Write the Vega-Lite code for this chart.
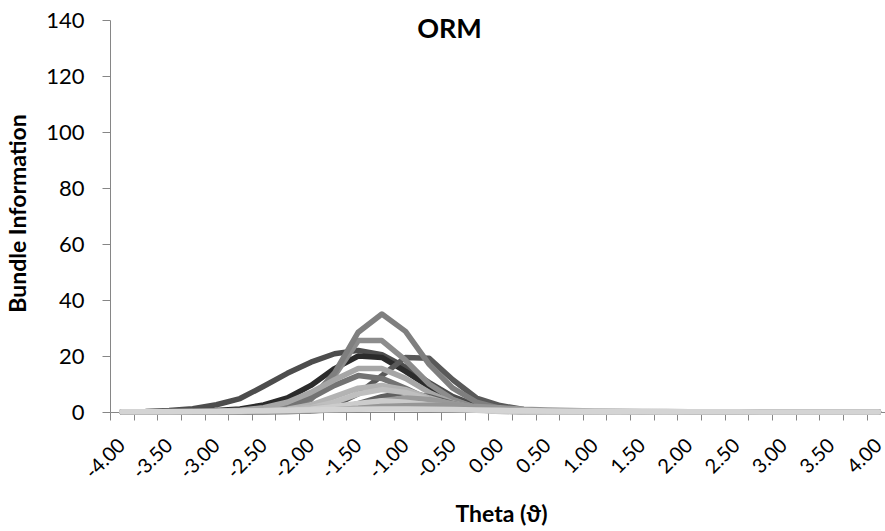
{
"$schema": "https://vega.github.io/schema/vega-lite/v6.json",
"width": 775, "height": 392,
"autosize": {"type": "none"},
"padding": {"left": 110, "top": 20, "right": 0, "bottom": 119},
"background": "white",
"config": {"font": "Lato", "view": {"stroke": null}},
"title": {"text": "ORM", "fontSize": 27, "fontWeight": "bold", "font": "Lato", "color": "#000000", "anchor": "middle", "frame": "group", "baseline": "middle", "offset": -13, "dx": -48, "dy": 35},
"data": {"values": [
{"s":"C","t":-4,"v":0.1},{"s":"C","t":-3.75,"v":0.2},{"s":"C","t":-3.5,"v":0.5},{"s":"C","t":-3.25,"v":1.2},{"s":"C","t":-3,"v":2.6},{"s":"C","t":-2.75,"v":4.8},{"s":"C","t":-2.5,"v":9.2},{"s":"C","t":-2.25,"v":13.8},{"s":"C","t":-2,"v":17.8},{"s":"C","t":-1.75,"v":20.8},{"s":"C","t":-1.5,"v":22},{"s":"C","t":-1.25,"v":20.5},{"s":"C","t":-1,"v":16},{"s":"C","t":-0.75,"v":10.5},{"s":"C","t":-0.5,"v":5.5},{"s":"C","t":-0.25,"v":2.3},{"s":"C","t":0,"v":0.9},{"s":"C","t":0.25,"v":0.4},{"s":"C","t":0.5,"v":0.2},{"s":"C","t":0.75,"v":0.1},{"s":"C","t":1,"v":0.05},{"s":"C","t":1.25,"v":0.03},{"s":"C","t":1.5,"v":0.02},{"s":"C","t":1.75,"v":0.01},{"s":"C","t":2,"v":0},{"s":"C","t":2.25,"v":0},{"s":"C","t":2.5,"v":0},{"s":"C","t":2.75,"v":0},{"s":"C","t":3,"v":0},{"s":"C","t":3.25,"v":0},{"s":"C","t":3.5,"v":0},{"s":"C","t":3.75,"v":0},{"s":"C","t":4,"v":0},
{"s":"D","t":-4,"v":0},{"s":"D","t":-3.75,"v":0.05},{"s":"D","t":-3.5,"v":0.1},{"s":"D","t":-3.25,"v":0.2},{"s":"D","t":-3,"v":0.5},{"s":"D","t":-2.75,"v":1.1},{"s":"D","t":-2.5,"v":2.5},{"s":"D","t":-2.25,"v":5},{"s":"D","t":-2,"v":9.5},{"s":"D","t":-1.75,"v":15.5},{"s":"D","t":-1.5,"v":20},{"s":"D","t":-1.25,"v":19.5},{"s":"D","t":-1,"v":14.5},{"s":"D","t":-0.75,"v":9},{"s":"D","t":-0.5,"v":4.5},{"s":"D","t":-0.25,"v":1.8},{"s":"D","t":0,"v":0.6},{"s":"D","t":0.25,"v":0.2},{"s":"D","t":0.5,"v":0.1},{"s":"D","t":0.75,"v":0.05},{"s":"D","t":1,"v":0},{"s":"D","t":1.25,"v":0},{"s":"D","t":1.5,"v":0},{"s":"D","t":1.75,"v":0},{"s":"D","t":2,"v":0},{"s":"D","t":2.25,"v":0},{"s":"D","t":2.5,"v":0},{"s":"D","t":2.75,"v":0},{"s":"D","t":3,"v":0},{"s":"D","t":3.25,"v":0},{"s":"D","t":3.5,"v":0},{"s":"D","t":3.75,"v":0},{"s":"D","t":4,"v":0},
{"s":"E","t":-4,"v":0},{"s":"E","t":-3.75,"v":0},{"s":"E","t":-3.5,"v":0},{"s":"E","t":-3.25,"v":0},{"s":"E","t":-3,"v":0.05},{"s":"E","t":-2.75,"v":0.1},{"s":"E","t":-2.5,"v":0.2},{"s":"E","t":-2.25,"v":0.4},{"s":"E","t":-2,"v":0.9},{"s":"E","t":-1.75,"v":2.5},{"s":"E","t":-1.5,"v":6.5},{"s":"E","t":-1.25,"v":13},{"s":"E","t":-1,"v":19.5},{"s":"E","t":-0.75,"v":19.2},{"s":"E","t":-0.5,"v":11.5},{"s":"E","t":-0.25,"v":5},{"s":"E","t":0,"v":2.3},{"s":"E","t":0.25,"v":0.9},{"s":"E","t":0.5,"v":0.4},{"s":"E","t":0.75,"v":0.2},{"s":"E","t":1,"v":0.1},{"s":"E","t":1.25,"v":0.05},{"s":"E","t":1.5,"v":0},{"s":"E","t":1.75,"v":0},{"s":"E","t":2,"v":0},{"s":"E","t":2.25,"v":0},{"s":"E","t":2.5,"v":0},{"s":"E","t":2.75,"v":0},{"s":"E","t":3,"v":0},{"s":"E","t":3.25,"v":0},{"s":"E","t":3.5,"v":0},{"s":"E","t":3.75,"v":0},{"s":"E","t":4,"v":0},
{"s":"B","t":-4,"v":0},{"s":"B","t":-3.75,"v":0},{"s":"B","t":-3.5,"v":0},{"s":"B","t":-3.25,"v":0},{"s":"B","t":-3,"v":0.1},{"s":"B","t":-2.75,"v":0.3},{"s":"B","t":-2.5,"v":0.8},{"s":"B","t":-2.25,"v":2.2},{"s":"B","t":-2,"v":5.5},{"s":"B","t":-1.75,"v":13},{"s":"B","t":-1.5,"v":25.5},{"s":"B","t":-1.25,"v":25.5},{"s":"B","t":-1,"v":18.5},{"s":"B","t":-0.75,"v":10},{"s":"B","t":-0.5,"v":4.5},{"s":"B","t":-0.25,"v":1.6},{"s":"B","t":0,"v":0.5},{"s":"B","t":0.25,"v":0.2},{"s":"B","t":0.5,"v":0.1},{"s":"B","t":0.75,"v":0},{"s":"B","t":1,"v":0},{"s":"B","t":1.25,"v":0},{"s":"B","t":1.5,"v":0},{"s":"B","t":1.75,"v":0},{"s":"B","t":2,"v":0},{"s":"B","t":2.25,"v":0},{"s":"B","t":2.5,"v":0},{"s":"B","t":2.75,"v":0},{"s":"B","t":3,"v":0},{"s":"B","t":3.25,"v":0},{"s":"B","t":3.5,"v":0},{"s":"B","t":3.75,"v":0},{"s":"B","t":4,"v":0},
{"s":"A","t":-4,"v":0},{"s":"A","t":-3.75,"v":0},{"s":"A","t":-3.5,"v":0},{"s":"A","t":-3.25,"v":0},{"s":"A","t":-3,"v":0},{"s":"A","t":-2.75,"v":0.1},{"s":"A","t":-2.5,"v":0.4},{"s":"A","t":-2.25,"v":1.5},{"s":"A","t":-2,"v":4.5},{"s":"A","t":-1.75,"v":14},{"s":"A","t":-1.5,"v":28.5},{"s":"A","t":-1.25,"v":35},{"s":"A","t":-1,"v":28.8},{"s":"A","t":-0.75,"v":17},{"s":"A","t":-0.5,"v":8.5},{"s":"A","t":-0.25,"v":3.5},{"s":"A","t":0,"v":1.3},{"s":"A","t":0.25,"v":0.4},{"s":"A","t":0.5,"v":0.1},{"s":"A","t":0.75,"v":0},{"s":"A","t":1,"v":0},{"s":"A","t":1.25,"v":0},{"s":"A","t":1.5,"v":0},{"s":"A","t":1.75,"v":0},{"s":"A","t":2,"v":0},{"s":"A","t":2.25,"v":0},{"s":"A","t":2.5,"v":0},{"s":"A","t":2.75,"v":0},{"s":"A","t":3,"v":0},{"s":"A","t":3.25,"v":0},{"s":"A","t":3.5,"v":0},{"s":"A","t":3.75,"v":0},{"s":"A","t":4,"v":0},
{"s":"G","t":-4,"v":0},{"s":"G","t":-3.75,"v":0},{"s":"G","t":-3.5,"v":0},{"s":"G","t":-3.25,"v":0.1},{"s":"G","t":-3,"v":0.2},{"s":"G","t":-2.75,"v":0.4},{"s":"G","t":-2.5,"v":1},{"s":"G","t":-2.25,"v":2.3},{"s":"G","t":-2,"v":5},{"s":"G","t":-1.75,"v":9.5},{"s":"G","t":-1.5,"v":13},{"s":"G","t":-1.25,"v":12},{"s":"G","t":-1,"v":8.5},{"s":"G","t":-0.75,"v":4.5},{"s":"G","t":-0.5,"v":2},{"s":"G","t":-0.25,"v":0.8},{"s":"G","t":0,"v":0.3},{"s":"G","t":0.25,"v":0.1},{"s":"G","t":0.5,"v":0},{"s":"G","t":0.75,"v":0},{"s":"G","t":1,"v":0},{"s":"G","t":1.25,"v":0},{"s":"G","t":1.5,"v":0},{"s":"G","t":1.75,"v":0},{"s":"G","t":2,"v":0},{"s":"G","t":2.25,"v":0},{"s":"G","t":2.5,"v":0},{"s":"G","t":2.75,"v":0},{"s":"G","t":3,"v":0},{"s":"G","t":3.25,"v":0},{"s":"G","t":3.5,"v":0},{"s":"G","t":3.75,"v":0},{"s":"G","t":4,"v":0},
{"s":"F","t":-4,"v":0},{"s":"F","t":-3.75,"v":0},{"s":"F","t":-3.5,"v":0},{"s":"F","t":-3.25,"v":0.1},{"s":"F","t":-3,"v":0.3},{"s":"F","t":-2.75,"v":0.6},{"s":"F","t":-2.5,"v":1.5},{"s":"F","t":-2.25,"v":3.5},{"s":"F","t":-2,"v":7},{"s":"F","t":-1.75,"v":11.5},{"s":"F","t":-1.5,"v":15.5},{"s":"F","t":-1.25,"v":15.5},{"s":"F","t":-1,"v":12},{"s":"F","t":-0.75,"v":7},{"s":"F","t":-0.5,"v":3.2},{"s":"F","t":-0.25,"v":1.2},{"s":"F","t":0,"v":0.4},{"s":"F","t":0.25,"v":0.1},{"s":"F","t":0.5,"v":0},{"s":"F","t":0.75,"v":0},{"s":"F","t":1,"v":0},{"s":"F","t":1.25,"v":0},{"s":"F","t":1.5,"v":0},{"s":"F","t":1.75,"v":0},{"s":"F","t":2,"v":0},{"s":"F","t":2.25,"v":0},{"s":"F","t":2.5,"v":0},{"s":"F","t":2.75,"v":0},{"s":"F","t":3,"v":0},{"s":"F","t":3.25,"v":0},{"s":"F","t":3.5,"v":0},{"s":"F","t":3.75,"v":0},{"s":"F","t":4,"v":0},
{"s":"J","t":-4,"v":0},{"s":"J","t":-3.75,"v":0},{"s":"J","t":-3.5,"v":0},{"s":"J","t":-3.25,"v":0},{"s":"J","t":-3,"v":0},{"s":"J","t":-2.75,"v":0},{"s":"J","t":-2.5,"v":0.1},{"s":"J","t":-2.25,"v":0.2},{"s":"J","t":-2,"v":0.4},{"s":"J","t":-1.75,"v":1},{"s":"J","t":-1.5,"v":3},{"s":"J","t":-1.25,"v":5.5},{"s":"J","t":-1,"v":7},{"s":"J","t":-0.75,"v":5.5},{"s":"J","t":-0.5,"v":3},{"s":"J","t":-0.25,"v":1.2},{"s":"J","t":0,"v":0.5},{"s":"J","t":0.25,"v":0.2},{"s":"J","t":0.5,"v":0.1},{"s":"J","t":0.75,"v":0},{"s":"J","t":1,"v":0},{"s":"J","t":1.25,"v":0},{"s":"J","t":1.5,"v":0},{"s":"J","t":1.75,"v":0},{"s":"J","t":2,"v":0},{"s":"J","t":2.25,"v":0},{"s":"J","t":2.5,"v":0},{"s":"J","t":2.75,"v":0},{"s":"J","t":3,"v":0},{"s":"J","t":3.25,"v":0},{"s":"J","t":3.5,"v":0},{"s":"J","t":3.75,"v":0},{"s":"J","t":4,"v":0},
{"s":"H","t":-4,"v":0},{"s":"H","t":-3.75,"v":0},{"s":"H","t":-3.5,"v":0},{"s":"H","t":-3.25,"v":0},{"s":"H","t":-3,"v":0.1},{"s":"H","t":-2.75,"v":0.2},{"s":"H","t":-2.5,"v":0.5},{"s":"H","t":-2.25,"v":1},{"s":"H","t":-2,"v":2.5},{"s":"H","t":-1.75,"v":5.5},{"s":"H","t":-1.5,"v":8.5},{"s":"H","t":-1.25,"v":9.5},{"s":"H","t":-1,"v":8},{"s":"H","t":-0.75,"v":5},{"s":"H","t":-0.5,"v":2.5},{"s":"H","t":-0.25,"v":1},{"s":"H","t":0,"v":0.4},{"s":"H","t":0.25,"v":0.1},{"s":"H","t":0.5,"v":0},{"s":"H","t":0.75,"v":0},{"s":"H","t":1,"v":0},{"s":"H","t":1.25,"v":0},{"s":"H","t":1.5,"v":0},{"s":"H","t":1.75,"v":0},{"s":"H","t":2,"v":0},{"s":"H","t":2.25,"v":0},{"s":"H","t":2.5,"v":0},{"s":"H","t":2.75,"v":0},{"s":"H","t":3,"v":0},{"s":"H","t":3.25,"v":0},{"s":"H","t":3.5,"v":0},{"s":"H","t":3.75,"v":0},{"s":"H","t":4,"v":0},
{"s":"I","t":-4,"v":0},{"s":"I","t":-3.75,"v":0},{"s":"I","t":-3.5,"v":0},{"s":"I","t":-3.25,"v":0},{"s":"I","t":-3,"v":0.1},{"s":"I","t":-2.75,"v":0.2},{"s":"I","t":-2.5,"v":0.4},{"s":"I","t":-2.25,"v":0.8},{"s":"I","t":-2,"v":1.5},{"s":"I","t":-1.75,"v":3.5},{"s":"I","t":-1.5,"v":6.5},{"s":"I","t":-1.25,"v":8},{"s":"I","t":-1,"v":7},{"s":"I","t":-0.75,"v":4.5},{"s":"I","t":-0.5,"v":2.3},{"s":"I","t":-0.25,"v":1},{"s":"I","t":0,"v":0.4},{"s":"I","t":0.25,"v":0.1},{"s":"I","t":0.5,"v":0},{"s":"I","t":0.75,"v":0},{"s":"I","t":1,"v":0},{"s":"I","t":1.25,"v":0},{"s":"I","t":1.5,"v":0},{"s":"I","t":1.75,"v":0},{"s":"I","t":2,"v":0},{"s":"I","t":2.25,"v":0},{"s":"I","t":2.5,"v":0},{"s":"I","t":2.75,"v":0},{"s":"I","t":3,"v":0},{"s":"I","t":3.25,"v":0},{"s":"I","t":3.5,"v":0},{"s":"I","t":3.75,"v":0},{"s":"I","t":4,"v":0},
{"s":"K","t":-4,"v":0},{"s":"K","t":-3.75,"v":0},{"s":"K","t":-3.5,"v":0},{"s":"K","t":-3.25,"v":0},{"s":"K","t":-3,"v":0},{"s":"K","t":-2.75,"v":0.1},{"s":"K","t":-2.5,"v":0.2},{"s":"K","t":-2.25,"v":0.4},{"s":"K","t":-2,"v":0.8},{"s":"K","t":-1.75,"v":1.3},{"s":"K","t":-1.5,"v":2},{"s":"K","t":-1.25,"v":4},{"s":"K","t":-1,"v":5},{"s":"K","t":-0.75,"v":4.5},{"s":"K","t":-0.5,"v":3},{"s":"K","t":-0.25,"v":1.5},{"s":"K","t":0,"v":0.6},{"s":"K","t":0.25,"v":0.3},{"s":"K","t":0.5,"v":0.1},{"s":"K","t":0.75,"v":0},{"s":"K","t":1,"v":0},{"s":"K","t":1.25,"v":0},{"s":"K","t":1.5,"v":0},{"s":"K","t":1.75,"v":0},{"s":"K","t":2,"v":0},{"s":"K","t":2.25,"v":0},{"s":"K","t":2.5,"v":0},{"s":"K","t":2.75,"v":0},{"s":"K","t":3,"v":0},{"s":"K","t":3.25,"v":0},{"s":"K","t":3.5,"v":0},{"s":"K","t":3.75,"v":0},{"s":"K","t":4,"v":0},
{"s":"M","t":-4,"v":0.05},{"s":"M","t":-3.75,"v":0.1},{"s":"M","t":-3.5,"v":0.15},{"s":"M","t":-3.25,"v":0.2},{"s":"M","t":-3,"v":0.3},{"s":"M","t":-2.75,"v":0.4},{"s":"M","t":-2.5,"v":0.5},{"s":"M","t":-2.25,"v":0.8},{"s":"M","t":-2,"v":1.5},{"s":"M","t":-1.75,"v":2},{"s":"M","t":-1.5,"v":2.5},{"s":"M","t":-1.25,"v":3},{"s":"M","t":-1,"v":3},{"s":"M","t":-0.75,"v":2.6},{"s":"M","t":-0.5,"v":2},{"s":"M","t":-0.25,"v":1.3},{"s":"M","t":0,"v":0.8},{"s":"M","t":0.25,"v":0.5},{"s":"M","t":0.5,"v":0.3},{"s":"M","t":0.75,"v":0.2},{"s":"M","t":1,"v":0.1},{"s":"M","t":1.25,"v":0.05},{"s":"M","t":1.5,"v":0},{"s":"M","t":1.75,"v":0},{"s":"M","t":2,"v":0},{"s":"M","t":2.25,"v":0},{"s":"M","t":2.5,"v":0},{"s":"M","t":2.75,"v":0},{"s":"M","t":3,"v":0},{"s":"M","t":3.25,"v":0},{"s":"M","t":3.5,"v":0},{"s":"M","t":3.75,"v":0},{"s":"M","t":4,"v":0},
{"s":"L","t":-4,"v":0},{"s":"L","t":-3.75,"v":0},{"s":"L","t":-3.5,"v":0},{"s":"L","t":-3.25,"v":0},{"s":"L","t":-3,"v":0.1},{"s":"L","t":-2.75,"v":0.2},{"s":"L","t":-2.5,"v":0.4},{"s":"L","t":-2.25,"v":0.6},{"s":"L","t":-2,"v":1},{"s":"L","t":-1.75,"v":2},{"s":"L","t":-1.5,"v":3},{"s":"L","t":-1.25,"v":4},{"s":"L","t":-1,"v":3.5},{"s":"L","t":-0.75,"v":2.5},{"s":"L","t":-0.5,"v":1.5},{"s":"L","t":-0.25,"v":0.6},{"s":"L","t":0,"v":0.2},{"s":"L","t":0.25,"v":0.1},{"s":"L","t":0.5,"v":0},{"s":"L","t":0.75,"v":0},{"s":"L","t":1,"v":0},{"s":"L","t":1.25,"v":0},{"s":"L","t":1.5,"v":0},{"s":"L","t":1.75,"v":0},{"s":"L","t":2,"v":0},{"s":"L","t":2.25,"v":0},{"s":"L","t":2.5,"v":0},{"s":"L","t":2.75,"v":0},{"s":"L","t":3,"v":0},{"s":"L","t":3.25,"v":0},{"s":"L","t":3.5,"v":0},{"s":"L","t":3.75,"v":0},{"s":"L","t":4,"v":0},
{"s":"O","t":-4,"v":0},{"s":"O","t":-3.75,"v":0},{"s":"O","t":-3.5,"v":0},{"s":"O","t":-3.25,"v":0},{"s":"O","t":-3,"v":0},{"s":"O","t":-2.75,"v":0},{"s":"O","t":-2.5,"v":0.1},{"s":"O","t":-2.25,"v":0.2},{"s":"O","t":-2,"v":0.4},{"s":"O","t":-1.75,"v":0.8},{"s":"O","t":-1.5,"v":1.3},{"s":"O","t":-1.25,"v":2},{"s":"O","t":-1,"v":2.2},{"s":"O","t":-0.75,"v":2.4},{"s":"O","t":-0.5,"v":2.4},{"s":"O","t":-0.25,"v":2},{"s":"O","t":0,"v":1.5},{"s":"O","t":0.25,"v":1},{"s":"O","t":0.5,"v":0.7},{"s":"O","t":0.75,"v":0.5},{"s":"O","t":1,"v":0.35},{"s":"O","t":1.25,"v":0.25},{"s":"O","t":1.5,"v":0.2},{"s":"O","t":1.75,"v":0.15},{"s":"O","t":2,"v":0.1},{"s":"O","t":2.25,"v":0.08},{"s":"O","t":2.5,"v":0.05},{"s":"O","t":2.75,"v":0.04},{"s":"O","t":3,"v":0.03},{"s":"O","t":3.25,"v":0.02},{"s":"O","t":3.5,"v":0.02},{"s":"O","t":3.75,"v":0.01},{"s":"O","t":4,"v":0.01},
{"s":"N","t":-4,"v":0.05},{"s":"N","t":-3.75,"v":0.07},{"s":"N","t":-3.5,"v":0.1},{"s":"N","t":-3.25,"v":0.15},{"s":"N","t":-3,"v":0.2},{"s":"N","t":-2.75,"v":0.3},{"s":"N","t":-2.5,"v":0.4},{"s":"N","t":-2.25,"v":0.5},{"s":"N","t":-2,"v":0.7},{"s":"N","t":-1.75,"v":0.9},{"s":"N","t":-1.5,"v":1},{"s":"N","t":-1.25,"v":1.1},{"s":"N","t":-1,"v":1.1},{"s":"N","t":-0.75,"v":1},{"s":"N","t":-0.5,"v":0.9},{"s":"N","t":-0.25,"v":0.7},{"s":"N","t":0,"v":0.6},{"s":"N","t":0.25,"v":0.5},{"s":"N","t":0.5,"v":0.4},{"s":"N","t":0.75,"v":0.3},{"s":"N","t":1,"v":0.25},{"s":"N","t":1.25,"v":0.2},{"s":"N","t":1.5,"v":0.15},{"s":"N","t":1.75,"v":0.1},{"s":"N","t":2,"v":0.08},{"s":"N","t":2.25,"v":0.06},{"s":"N","t":2.5,"v":0.05},{"s":"N","t":2.75,"v":0.04},{"s":"N","t":3,"v":0.03},{"s":"N","t":3.25,"v":0.02},{"s":"N","t":3.5,"v":0.02},{"s":"N","t":3.75,"v":0.01},{"s":"N","t":4,"v":0.01}
]},
"mark": {"type": "line", "strokeWidth": 5.5, "strokeJoin": "round", "strokeCap": "round", "clip": false},
"encoding": {
  "x": {"field": "t", "type": "quantitative",
    "scale": {"domain": [-4.125, 4.07], "nice": false, "zero": false},
    "axis": {
      "values": [-4.125,-4,-3.875,-3.625,-3.5,-3.375,-3.125,-3,-2.875,-2.625,-2.5,-2.375,-2.125,-2,-1.875,-1.625,-1.5,-1.375,-1.125,-1,-0.875,-0.625,-0.5,-0.375,-0.125,0,0.125,0.375,0.5,0.625,0.875,1,1.125,1.375,1.5,1.625,1.875,2,2.125,2.375,2.5,2.625,2.875,3,3.125,3.375,3.5,3.625,3.875,4],
      "labelExpr": "abs(datum.value*2 - round(datum.value*2)) < 0.01 ? (datum.value < 0 ? '-' : '') + format(abs(datum.value), '.2f') : ''",
      "tickOpacity": {"condition": {"test": "abs(datum.value*4 - round(datum.value*4)) > 0.1", "value": 1}, "value": 0},
      "labelAngle": -45, "labelAlign": "right", "labelBaseline": "middle", "labelFontSize": 20, "labelColor": "#000000", "labelPadding": 22, "labelDx": -6,
      "labelOverlap": false, "labelFlush": false, "labelBound": false,
      "domainColor": "#868686", "tickColor": "#868686", "tickSize": 8, "grid": false,
      "title": "Theta (ϑ)", "titleFontSize": 23, "titleFontWeight": "bold", "titleColor": "#000000",
      "titleX": 391, "titleY": 102, "titleBaseline": "middle", "titleAlign": "center"
    }
  },
  "y": {"field": "v", "type": "quantitative",
    "scale": {"domain": [0, 140], "nice": false},
    "axis": {
      "values": [0,20,40,60,80,100,120,140],
      "labelFontSize": 22, "labelColor": "#000000", "labelPadding": 18,
      "domainColor": "#868686", "tickColor": "#868686", "tickSize": 8, "grid": false,
      "title": "Bundle Information", "titleFontSize": 23, "titleFontWeight": "bold", "titleColor": "#000000",
      "titleX": -92, "titleY": 193, "titleAngle": -90, "titleBaseline": "middle", "titleAlign": "center"
    }
  },
  "color": {"field": "s", "type": "nominal", "legend": null,
    "scale": {"domain": ["C","D","E","B","A","G","F","J","H","I","K","M","L","O","N"],
      "range": ["#4d4d4d","#2b2b2b","#595959","#8c8c8c","#7f7f7f","#737373","#a6a6a6","#606060","#b3b3b3","#bfbfbf","#999999","#b8b8b8","#cccccc","#969696","#d4d4d4"]}}
}
}
